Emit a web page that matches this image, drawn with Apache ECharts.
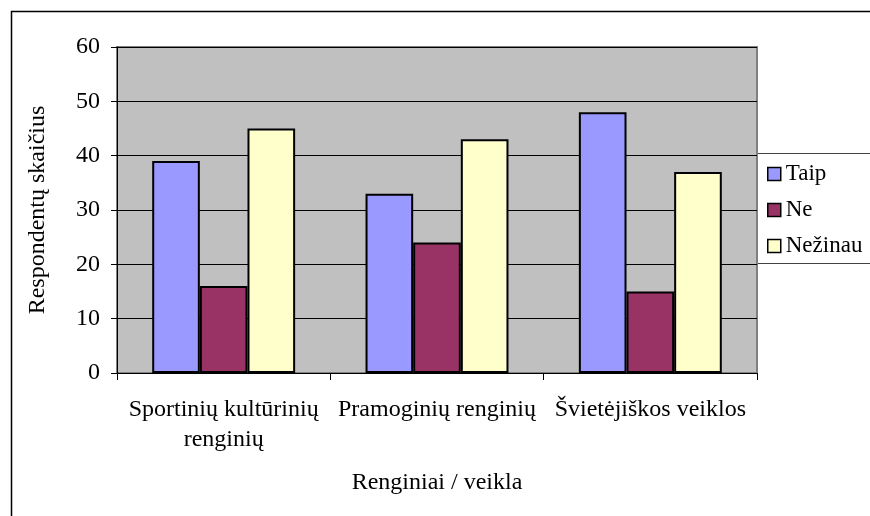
<!DOCTYPE html>
<html>
<head>
<meta charset="utf-8">
<script src="https://cdn.jsdelivr.net/npm/echarts@6/dist/echarts.min.js"></script>
<style>
  html, body { margin: 0; padding: 0; background: #fff; }
  #chart { width: 870px; height: 516px; }
</style>
</head>
<body>
<div id="chart"></div>
<script>
// data
var categories = ['Sportinių kultūrinių\nrenginių', 'Pramoginių renginių', 'Švietėjiškos veiklos']
var taip = [39, 33, 48]
var ne = [16, 24, 15]
var nezinau = [45, 43, 37]
var yTicks = [0, 10, 20, 30, 40, 50, 60]

var font = '"Liberation Serif", "Times New Roman", serif'

var chart = echarts.init(document.getElementById('chart'))

chart.setOption({
  backgroundColor: '#FFFFFF',
  animation: false,
  textStyle: { fontFamily: font, color: '#000' },
  grid: {
    left: 117,
    right: 113,
    top: 47,
    bottom: 143,
    show: true,
    backgroundColor: '#C0C0C0',
    borderColor: '#808080',
    borderWidth: 2
  },
  legend: {
    orient: 'vertical',
    left: 762,
    top: 157,
    itemWidth: 13,
    itemHeight: 13,
    itemGap: 12,
    icon: 'rect',
    itemStyle: { borderColor: '#000', borderWidth: 1.5 },
    textStyle: { fontFamily: font, fontSize: 23, lineHeight: 24, color: '#000' },
    data: ['Taip', 'Ne', 'Nežinau']
  },
  graphic: [
    {
      type: 'rect',
      left: 9, top: 9,
      shape: { width: 880, height: 530 },
      style: { fill: null, stroke: '#000', lineWidth: 1.5 },
      silent: true, z: 100
    },
    {
      type: 'rect',
      left: 757, top: 153,
      shape: { width: 120, height: 110 },
      style: { fill: '#fff', stroke: '#444', lineWidth: 1 },
      silent: true, z: -1
    }
  ],
  xAxis: {
    type: 'category',
    data: categories,
    name: 'Renginiai / veikla',
    nameLocation: 'middle',
    nameGap: 98,
    nameTextStyle: { fontFamily: font, fontSize: 24, color: '#000' },
    axisLine: { lineStyle: { color: '#000', width: 1 } },
    axisTick: { show: true, length: 7, lineStyle: { color: '#000' } },
    axisLabel: { fontFamily: font, fontSize: 24, color: '#000', margin: 22, lineHeight: 30, interval: 0 }
  },
  yAxis: {
    type: 'value',
    min: yTicks[0],
    max: yTicks[yTicks.length - 1],
    interval: 10,
    name: 'Respondentų skaičius',
    nameLocation: 'middle',
    nameGap: 67,
    nameTextStyle: { fontFamily: font, fontSize: 24, color: '#000' },
    axisLine: { show: true, lineStyle: { color: '#000', width: 1 } },
    axisTick: { show: true, length: 6, lineStyle: { color: '#000' } },
    axisLabel: { fontFamily: font, fontSize: 24, color: '#000', margin: 17 },
    splitLine: { show: true, lineStyle: { color: '#000', width: 1 } }
  },
  series: [
    {
      name: 'Taip', type: 'bar', data: taip,
      barGap: '0%', barCategoryGap: '33%',
      itemStyle: { color: '#9999FF', borderColor: '#000', borderWidth: 2 }
    },
    {
      name: 'Ne', type: 'bar', data: ne,
      itemStyle: { color: '#993366', borderColor: '#000', borderWidth: 2 }
    },
    {
      name: 'Nežinau', type: 'bar', data: nezinau,
      itemStyle: { color: '#FFFFCC', borderColor: '#000', borderWidth: 2 }
    }
  ]
})
</script>
</body>
</html>
